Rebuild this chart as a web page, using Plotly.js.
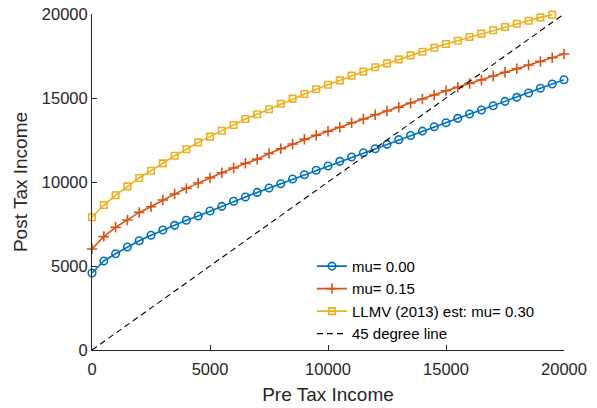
<!DOCTYPE html>
<html>
<head>
<meta charset="utf-8">
<script src="https://cdn.plot.ly/plotly-3.0.1.min.js"></script>
<style>html,body{margin:0;padding:0;background:#fff;}#chart{width:597px;height:408px;}</style>
</head>
<body>
<div id="chart"></div>
<script>
const preTax = [0,500,1000,1500,2000,2500,3000,3500,4000,4500,5000,5500,6000,6500,7000,7500,8000,8500,9000,9500,10000,10500,11000,11500,12000,12500,13000,13500,14000,14500,15000,15500,16000,16500,17000,17500,18000,18500,19000,19500,20000];
const mu000 = [4580,5300,5730,6130,6500,6830,7140,7420,7720,7980,8270,8550,8850,9110,9380,9640,9900,10180,10430,10700,10950,11230,11490,11740,11980,12240,12520,12770,13030,13290,13530,13790,14050,14290,14540,14800,15040,15300,15580,15830,16090];
const mu015 = [6010,6750,7300,7740,8190,8530,8930,9290,9620,9940,10260,10550,10830,11110,11360,11700,11980,12260,12540,12780,13020,13260,13530,13750,14000,14225,14446,14700,14940,15180,15430,15640,15870,16070,16310,16530,16740,16960,17180,17400,17620];
const preTaxLLMV = [0,500,1000,1500,2000,2500,3000,3500,4000,4500,5000,5500,6000,6500,7000,7500,8000,8500,9000,9500,10000,10500,11000,11500,12000,12500,13000,13500,14000,14500,15000,15500,16000,16500,17000,17500,18000,18500,19000,19500];
const mu030 = [7900,8630,9210,9740,10240,10670,11110,11565,11950,12360,12700,13050,13390,13750,14030,14330,14660,14960,15240,15520,15790,16050,16330,16570,16830,17060,17300,17540,17750,17990,18210,18410,18630,18830,19030,19230,19420,19600,19800,19960];
const lineX = [0,20000];
const lineY = [0,20000];
const seriesNames = ['mu= 0.00','mu= 0.15','LLMV (2013) est: mu= 0.30','45 degree line'];
const xTickVals = [0,5000,10000,15000,20000];
const xTickText = ['0','5000','10000','15000','20000'];
const yTickVals = [0,5000,10000,15000,20000];
const yTickText = ['0','5000','10000','15000','20000'];

const FONT = 'Liberation Sans, Arial, sans-serif';
const traces = [
  {x: preTax, y: mu000, name: seriesNames[0], mode: 'lines+markers', cliponaxis: false,
   line: {color: '#0072BD', width: 1.6},
   marker: {symbol: 'circle-open', size: 7.5, color: '#0072BD', line: {width: 1.6}}},
  {x: preTax, y: mu015, name: seriesNames[1], mode: 'lines+markers', cliponaxis: false,
   line: {color: '#D95319', width: 1.6},
   marker: {symbol: 'cross-thin-open', size: 7.5, color: '#D95319', line: {width: 1.6, color: '#D95319'}}},
  {x: preTaxLLMV, y: mu030, name: seriesNames[2], mode: 'lines+markers', cliponaxis: false,
   line: {color: '#EDB120', width: 1.6},
   marker: {symbol: 'square-open', size: 6.5, color: '#EDB120', line: {width: 1.6}}},
  {x: lineX, y: lineY, name: seriesNames[3], mode: 'lines',
   line: {color: '#000000', width: 1.1, dash: '6px,4px'}}
];

const layout = {
  width: 597, height: 408,
  margin: {l: 92, r: 33, t: 14, b: 58},
  paper_bgcolor: '#ffffff', plot_bgcolor: '#ffffff',
  font: {family: FONT, size: 16, color: '#262626'},
  showlegend: true,
  legend: {x: 0.466, y: 0.298, xanchor: 'left', yanchor: 'top', bgcolor: 'rgba(255,255,255,0)',
           borderwidth: 0, font: {family: FONT, size: 15, color: '#000000'}, tracegroupgap: 0},
  xaxis: {range: [0, 20000], tickvals: xTickVals, ticktext: xTickText, ticks: 'inside', ticklen: 5,
          tickcolor: '#262626', showline: true, linecolor: '#262626', linewidth: 1, showgrid: false,
          zeroline: false, ticklabelstandoff: 4, tickfont: {family: FONT, size: 16.5, color: '#262626'},
          title: {text: 'Pre Tax Income', font: {family: FONT, size: 19, color: '#262626'}, standoff: 10}},
  yaxis: {range: [0, 20000], tickvals: yTickVals, ticktext: yTickText, ticks: 'inside', ticklen: 5,
          tickcolor: '#262626', showline: true, linecolor: '#262626', linewidth: 1, showgrid: false,
          zeroline: false, tickfont: {family: FONT, size: 16.5, color: '#262626'},
          title: {text: 'Post Tax Income', font: {family: FONT, size: 19, color: '#262626'}, standoff: 9}}
};
Plotly.newPlot('chart', traces, layout, {displayModeBar: false, staticPlot: true});
</script>
</body>
</html>
